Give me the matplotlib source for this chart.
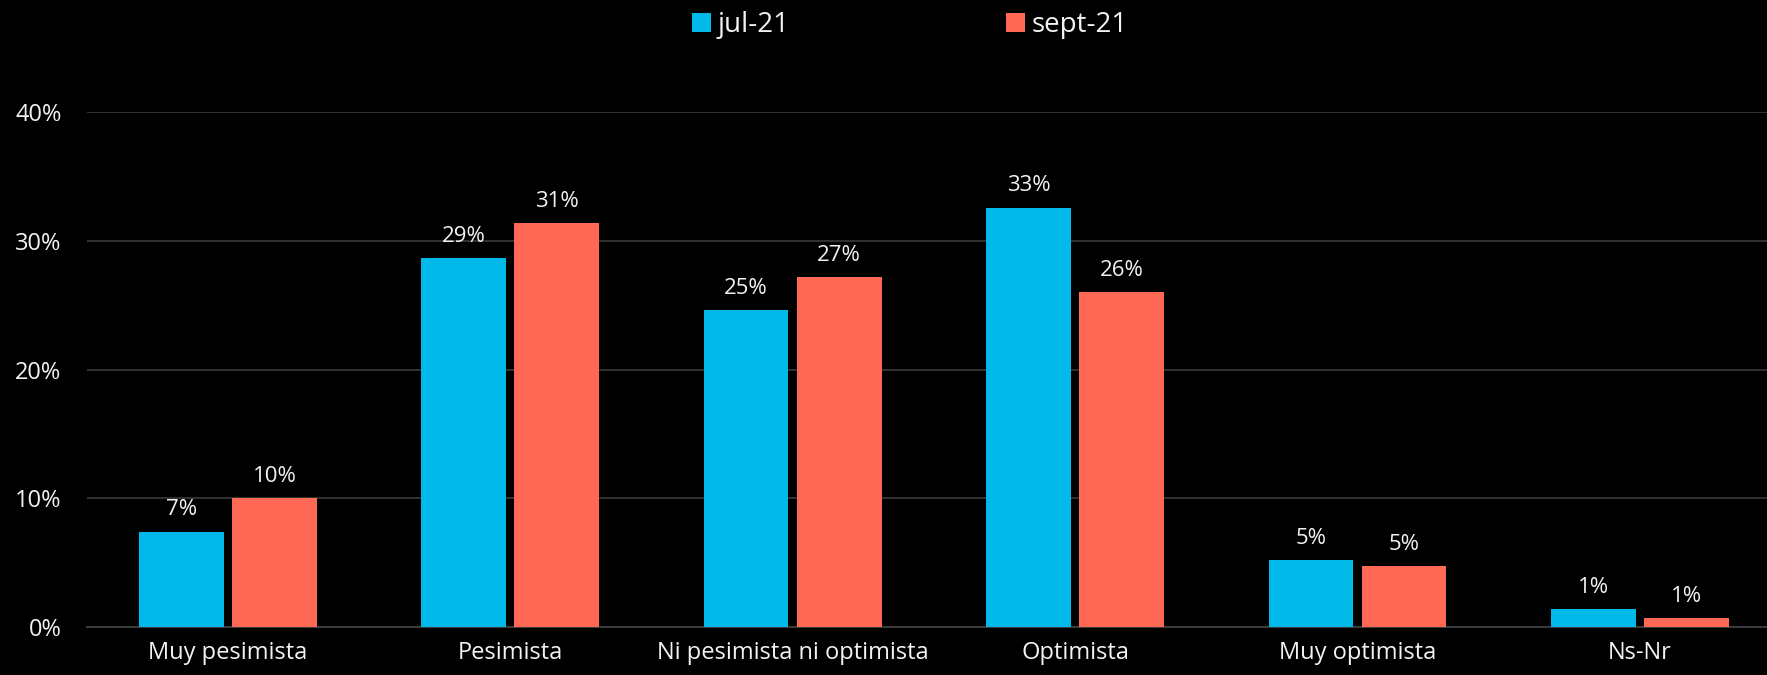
import matplotlib.pyplot as plt
import numpy as np

categories = ["Muy pesimista", "Pesimista", "Ni pesimista ni optimista",
              "Optimista", "Muy optimista", "Ns-Nr"]
jul_21 = [0.074, 0.287, 0.246, 0.326, 0.052, 0.014]
sept_21 = [0.100, 0.314, 0.272, 0.260, 0.047, 0.007]
series_names = ["jul-21", "sept-21"]
yticks = [0, 0.1, 0.2, 0.3, 0.4]
ytick_labels = ["0%", "10%", "20%", "30%", "40%"]

blue = "#00B9E8"
red = "#FF6854"
txt = "#F2F2F2"

plt.rcParams['font.family'] = ['Open Sans', 'DejaVu Sans']

fig = plt.figure(figsize=(17.67, 6.75), dpi=100, facecolor="black")
ax = fig.add_axes([0.049, 0.0715, 0.951, 0.762], facecolor="black")

x = np.arange(len(categories))
w = 0.30
gap = 0.03
b1 = ax.bar(x - (w + gap) / 2, jul_21, w, color=blue, label=series_names[0], zorder=3)
b2 = ax.bar(x + (w + gap) / 2, sept_21, w, color=red, label=series_names[1], zorder=3)

# data labels
for bars, vals in [(b1, jul_21), (b2, sept_21)]:
    for rect, v in zip(bars, vals):
        ax.annotate(f"{round(v * 100):.0f}%",
                    (rect.get_x() + rect.get_width() / 2, rect.get_height()),
                    xytext=(0, 8), textcoords="offset points",
                    ha="center", va="bottom", color=txt, fontsize=16)

ax.set_xlim(-0.5, 5.45)
ax.set_ylim(0, 0.40)
ax.set_yticks(yticks)
ax.set_yticklabels(ytick_labels)
ax.set_xticks(x)
ax.set_xticklabels(categories)
ax.tick_params(axis="both", colors=txt, labelsize=17, length=0)
ax.tick_params(axis="x", pad=10)
ax.tick_params(axis="y", pad=18)

ax.grid(axis="y", color="#3A3A3A", linewidth=1.2, zorder=0)
for s in ["top", "right", "left"]:
    ax.spines[s].set_visible(False)
ax.spines["bottom"].set_color("#3A3A3A")
ax.spines["bottom"].set_linewidth(1.5)

leg = fig.legend(loc="center", bbox_to_anchor=(0.515, 0.963), ncol=2, frameon=False,
                 fontsize=20, handlelength=0.68, handleheight=0.68, handletextpad=0.25,
                 columnspacing=7.8)
for t in leg.get_texts():
    t.set_color(txt)

fig.savefig("out.png", dpi=100, facecolor="black")
